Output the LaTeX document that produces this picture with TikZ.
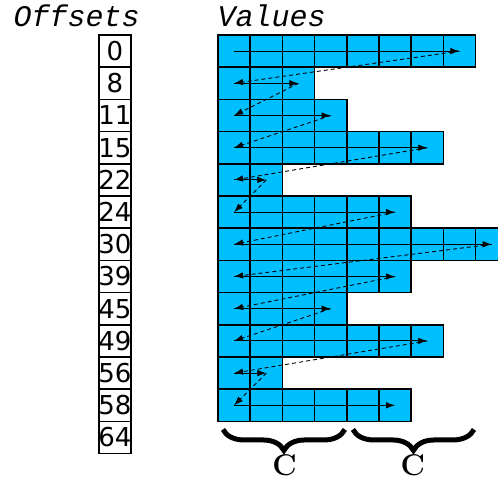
\documentclass[tikz,border=0pt]{standalone}
\usepackage{fontspec}
\setmonofont{Liberation Mono}
\newfontfamily\numfont{DejaVu Sans}
\usepackage{xcolor}
\usepackage{tikz}
\usetikzlibrary{arrows.meta, positioning, decorations.pathreplacing, calc}
\definecolor{cellblue}{RGB}{0,191,255}

\begin{document}
\begin{tikzpicture}[x=32.2pt, y=-32.2pt, >=latex,
    cell/.style={draw, fill=cellblue, line width=1.7pt, minimum size=32.2pt, inner sep=0pt},
    offbox/.style={draw, line width=1.5pt, minimum size=32.2pt, inner sep=0pt, font=\numfont\fontsize{26}{26}\selectfont},
    title/.style={anchor=base west, inner sep=0pt, font=\ttfamily\itshape\fontsize{30}{30}\selectfont},
    walk/.style={-{Latex[length=9pt,width=6.5pt]}, line width=0.9pt},
    jump/.style={-{Latex[length=9pt,width=6.5pt]}, dash pattern=on 4pt off 3pt, line width=0.9pt},
    curly/.style={decorate, decoration={brace, amplitude=21pt}, line width=5pt},
    clabel/.style={anchor=north, inner sep=0pt, font=\rmfamily\bfseries\fontsize{30}{30}\selectfont}]
    \path[use as bounding box, clip] (-6.77,-1.087) rectangle (8.696,13.913);

    \node [title] (offsets) at (-6.35,-0.25) {Offsets};
    \node [title] (values)  at (-0.02,-0.25) {Values};

    % offsets column
    \foreach \v [count=\r from 0] in {0,8,11,15,22,24,30,39,45,49,56,58,64}
        \node [offbox] (off-\r) at (-3.2,\r+0.5) {\makebox[0pt]{\v}};

    % value rows
    \foreach \len [count=\r from 0] in {8,3,4,7,2,6,9,6,4,7,2,6} {
        \foreach \c in {1,...,\len}
            \node [cell] (cell-\r-\c) at (\c-0.5,\r+0.5) {};
        \draw [walk] (cell-\r-1.center) -- (cell-\r-\len.center);
    }

    % jumps to the next row
    \foreach \len [count=\r from 0] in {8,3,4,7,2,6,9,6,4,7,2} {
        \pgfmathtruncatemacro\nxt{\r+1}
        \draw [jump] (cell-\r-\len.center) -- (cell-\nxt-1.center);
    }

    % braces
    \coordinate (brace-a-l) at (0.155,12.25);
    \coordinate (brace-a-r) at (3.94,12.25);
    \coordinate (brace-b-l) at (4.19,12.25);
    \coordinate (brace-b-r) at (7.95,12.25);
    \draw [curly] (brace-a-r) -- (brace-a-l);
    \draw [curly] (brace-b-r) -- (brace-b-l);
    \node [clabel] (c-a) at (2.07,13.02) {C};
    \node [clabel] (c-b) at (6.05,13.02) {C};
\end{tikzpicture}
\end{document}
